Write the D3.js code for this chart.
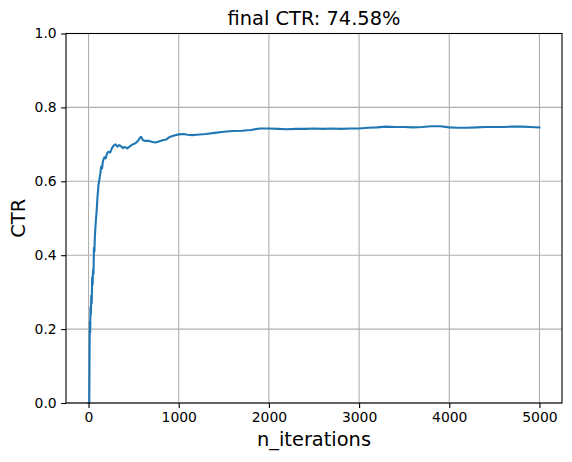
<!DOCTYPE html>
<html><head><meta charset="utf-8">
<script src="https://cdn.jsdelivr.net/npm/d3@7"></script>
<style>body{margin:0;background:#fff}svg{display:block}text{font-family:"DejaVu Sans",sans-serif}</style>
</head><body><svg id="c" width="572" height="462"></svg>
<script>
const title = "final CTR: 74.58%";
const xLabel = "n_iterations";
const yLabel = "CTR";
const xTicks = [0, 1000, 2000, 3000, 4000, 5000];
const yTicks = [0.0, 0.2, 0.4, 0.6, 0.8, 1.0];
const iterations = [0, 8, 12, 15, 18, 22, 26, 30, 35, 40, 45, 50, 55, 60, 65, 70, 80, 90, 100, 110, 120, 130, 140, 150, 160, 175, 190, 205, 220, 240, 260, 280, 300, 320, 340, 360, 380, 400, 430, 460, 490, 520, 550, 570, 585, 600, 630, 660, 700, 740, 780, 820, 860, 900, 950, 1000, 1050, 1100, 1150, 1200, 1300, 1400, 1500, 1600, 1700, 1800, 1900, 2000, 2100, 2200, 2300, 2400, 2500, 2600, 2700, 2800, 2900, 3000, 3100, 3200, 3300, 3400, 3500, 3600, 3700, 3800, 3900, 4000, 4100, 4200, 4300, 4400, 4500, 4600, 4700, 4800, 4900, 5000];
const ctr = [0, 0, 0.17, 0.22, 0.19, 0.26, 0.24, 0.29, 0.27, 0.34, 0.32, 0.36, 0.35, 0.42, 0.41, 0.45, 0.49, 0.52, 0.56, 0.59, 0.605, 0.62, 0.64, 0.635, 0.655, 0.665, 0.662, 0.675, 0.68, 0.678, 0.69, 0.697, 0.70, 0.694, 0.698, 0.695, 0.69, 0.693, 0.689, 0.695, 0.70, 0.703, 0.71, 0.718, 0.72, 0.712, 0.709, 0.71, 0.707, 0.705, 0.708, 0.711, 0.713, 0.72, 0.724, 0.727, 0.728, 0.726, 0.725, 0.726, 0.728, 0.731, 0.734, 0.736, 0.737, 0.739, 0.743, 0.743, 0.742, 0.741, 0.742, 0.742, 0.743, 0.742, 0.743, 0.742, 0.743, 0.743, 0.745, 0.746, 0.748, 0.747, 0.747, 0.746, 0.747, 0.749, 0.749, 0.746, 0.745, 0.745, 0.746, 0.747, 0.747, 0.747, 0.748, 0.748, 0.747, 0.7458];

const L = 66, R = 562, T = 33.5, B = 403;
const svg = d3.select("#c");
const x = d3.scaleLinear().domain([-250, 5250]).range([L, R]);
const y = d3.scaleLinear().domain([0, 1]).range([B, T]);

// grid
const g = svg.append("g");
g.selectAll(".gx").data(xTicks).join("line")
  .attr("x1", d => x(d)).attr("x2", d => x(d)).attr("y1", T).attr("y2", B)
  .attr("stroke", "#b0b0b0").attr("stroke-width", 1.1);
g.selectAll(".gy").data(yTicks).join("line")
  .attr("y1", d => y(d)).attr("y2", d => y(d)).attr("x1", L).attr("x2", R)
  .attr("stroke", "#b0b0b0").attr("stroke-width", 1.1);

// line
const data = iterations.map((d, i) => [d, ctr[i]]);
svg.append("path").datum(data)
  .attr("d", d3.line().x(d => x(d[0])).y(d => y(d[1])))
  .attr("fill", "none").attr("stroke", "#1f77b4").attr("stroke-width", 2.1)
  .attr("stroke-linejoin", "round").attr("stroke-linecap", "square");

// axes
const xa = svg.append("g").attr("transform", `translate(0,${B})`)
  .call(d3.axisBottom(x).tickValues(xTicks).tickFormat(d3.format("d")).tickSize(4.9).tickPadding(4.4));
const ya = svg.append("g").attr("transform", `translate(${L},0)`)
  .call(d3.axisLeft(y).tickValues(yTicks).tickFormat(d3.format(".1f")).tickSize(4.9).tickPadding(4.4));
[xa, ya].forEach(a => {
  a.select(".domain").remove();
  a.selectAll("line").attr("stroke", "#000").attr("stroke-width", 1.1);
  a.selectAll("text").attr("font-size", "13.9px").attr("fill", "#000").attr("font-family", "DejaVu Sans");
});

// spines
svg.append("rect").attr("x", L).attr("y", T).attr("width", R - L).attr("height", B - T)
  .attr("fill", "none").attr("stroke", "#000").attr("stroke-width", 1.1);

// labels
svg.append("text").attr("x", (L + R) / 2).attr("y", 24.5).attr("text-anchor", "middle")
  .attr("font-size", "19.4px").text(title);
svg.append("text").attr("x", (L + R) / 2).attr("y", 446).attr("text-anchor", "middle")
  .attr("font-size", "19.4px").text(xLabel);
svg.append("text").attr("transform", `translate(25,${(T + B) / 2}) rotate(-90)`).attr("text-anchor", "middle")
  .attr("font-size", "19.4px").text(yLabel);
</script></body></html>
